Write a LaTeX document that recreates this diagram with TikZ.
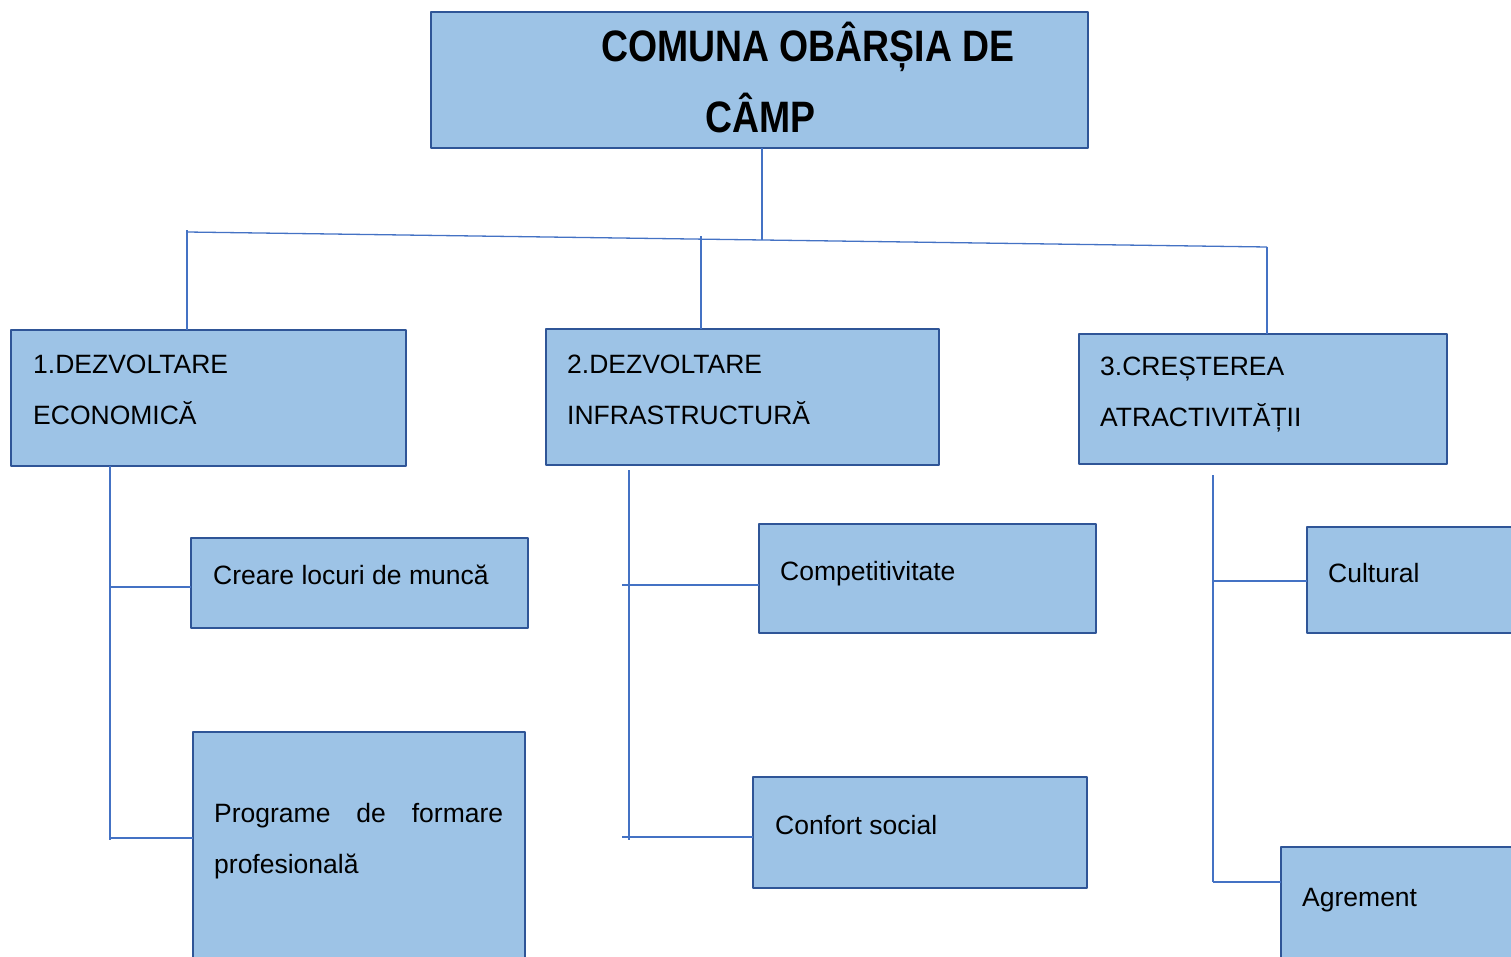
\documentclass[tikz,border=0pt]{standalone}
\usepackage{fontspec}
\setmainfont{Liberation Sans}
\definecolor{boxfill}{RGB}{157,195,230}
\definecolor{boxline}{RGB}{47,85,151}
\definecolor{linkc}{RGB}{68,114,196}
\begin{document}
\begin{tikzpicture}[x=1pt, y=-1pt, line join=round,
  box/.style={draw=boxline, fill=boxfill, line width=2.5pt, inner sep=0pt, outer sep=0pt, anchor=north west},
  link/.style={draw=linkc, line width=1.3pt},
  txt/.style={font=\fontsize{26.5}{51}\selectfont, anchor=base west, inner sep=0pt, align=left},
  head/.style={font=\bfseries\fontsize{44}{71}\selectfont, anchor=base west, inner sep=0pt, xscale=0.85}]
\useasboundingbox (0,0) rectangle (1511,957);
\clip (0,0) rectangle (1511,957);
% casete
\node[box, minimum width=657, minimum height=136] (title) at (431,12) {};
\node[box, minimum width=395, minimum height=136] (eco) at (11,330) {};
\node[box, minimum width=393, minimum height=136] (infra) at (546,329) {};
\node[box, minimum width=368, minimum height=130] (atr) at (1079,334) {};
\node[box, minimum width=337, minimum height=90] (crea) at (191,538) {};
\node[box, minimum width=332, minimum height=250] (progr) at (193,732) {};
\node[box, minimum width=337, minimum height=109] (compet) at (759,524) {};
\node[box, minimum width=334, minimum height=111] (confort) at (753,777) {};
\node[box, minimum width=220, minimum height=106] (cult) at (1307,527) {};
\node[box, minimum width=250, minimum height=130] (agrem) at (1281,847) {};
% texte (base = ultimul rand)
\node[head] (title-a) at (601,62) {COMUNA OBÂRȘIA DE};
\node[head] (title-b) at (705,133) {CÂMP};
\node[txt] (eco-t) at (33,424) {1.DEZVOLTARE\\ECONOMICĂ};
\node[txt] (infra-t) at (567,424) {2.DEZVOLTARE\\INFRASTRUCTURĂ};
\node[txt] (atr-t) at (1100,426) {3.CREȘTEREA\\ATRACTIVITĂȚII};
\node[txt] (crea-t) at (213,584) {Creare locuri de muncă};
\node[txt, text width=289, align=justify] (progr-t) at (214,822) {Programe de formare\linebreak profesională};
\node[txt] (compet-t) at (780,580) {Competitivitate};
\node[txt] (confort-t) at (775,834) {Confort social};
\node[txt] (cult-t) at (1328,582) {Cultural};
\node[txt] (agrem-t) at (1302,906) {Agrement};
% legaturi nivel 1
\coordinate (bL) at (187,232);
\coordinate (bR) at (1267,247);
\coordinate (bT) at (762,240);
\coordinate (bM) at (701,236);
\draw[link] (bL) -- (bR);
\draw[link] (title.south -| bT) -- (bT);
\draw[link] (eco.north -| bL) -- ++(0,-100);
\draw[link] (infra.north -| bM) -- ++(0,-93);
\draw[link] (atr.north -| bR) -- (bR);
% legaturi nivel 2
\coordinate (sE) at (110,840);
\coordinate (sE1) at (110,587);
\coordinate (sE2) at (110,838);
\draw[link] (eco.south -| sE) -- (sE);
\draw[link] (sE1) -- (sE1 -| crea.west);
\draw[link] (sE2) -- (sE2 -| progr.west);
\coordinate (sI) at (629,840);
\coordinate (sI1) at (622,585);
\coordinate (sI2) at (622,837);
\draw[link] ([yshift=-5pt]infra.south -| sI) -- (sI);
\draw[link] (sI1) -- (sI1 -| compet.west);
\draw[link] (sI2) -- (sI2 -| confort.west);
\coordinate (sA) at (1213,882);
\coordinate (sA1) at (1213,581);
\draw[link] ([yshift=-11pt]atr.south -| sA) -- (sA);
\draw[link] (sA1) -- (sA1 -| cult.west);
\draw[link] (sA) -- (sA -| agrem.west);
\end{tikzpicture}
\end{document}
